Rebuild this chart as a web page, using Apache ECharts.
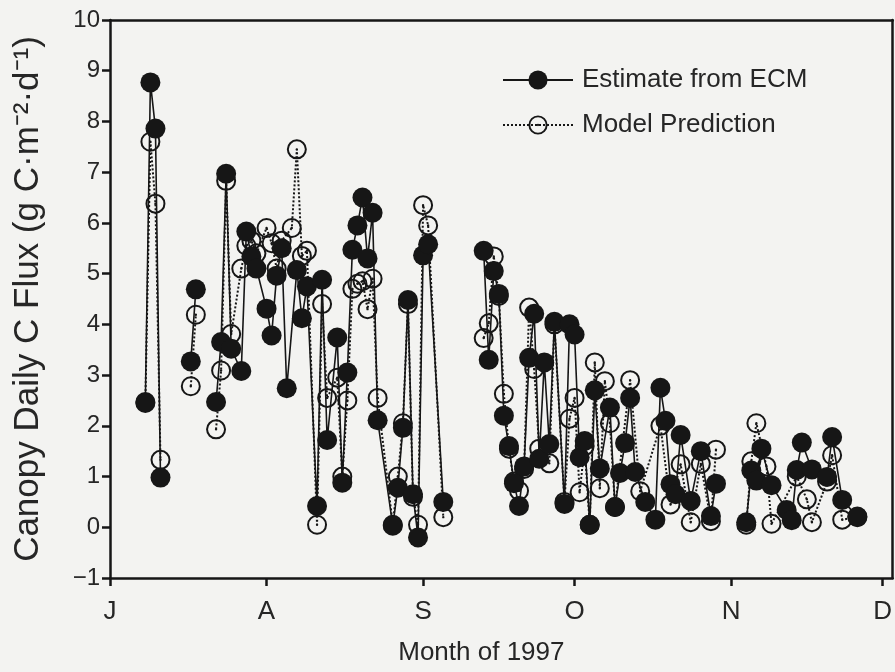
<!DOCTYPE html>
<html>
<head>
<meta charset="utf-8">
<script src="https://cdn.jsdelivr.net/npm/echarts@6/dist/echarts.min.js"></script>
<style>
  html, body { margin: 0; padding: 0; background: #f3f3f1; }
  #chart { width: 895px; height: 672px; }
</style>
</head>
<body>
<div id="chart"></div>
<script>
// x = day counted from 1 July 1997 (0 = 1 July)
const monthTicks = [0, 31, 62, 92, 123, 153];
const monthLabels = ['J', 'A', 'S', 'O', 'N', 'D'];
const yTicks = [-1, 0, 1, 2, 3, 4, 5, 6, 7, 8, 9, 10];

// Estimate from ECM (null = gap in the record)
const ecmDays = [7, 8, 9, 10, 13,
  16, 17, 19,
  21, 22, 23, 24, 26, 27, 28, 29, 31, 32, 33, 34, 35, 37, 38, 39, 41, 42, 43, 45, 46, 47, 48, 49, 50, 51, 52, 53, 56, 57, 58, 59, 60, 61, 62, 63, 66, 70,
  74, 75, 76, 77, 78, 79, 80, 81, 82, 83, 84, 85, 86, 87, 88, 90, 91, 92, 93, 94, 95, 96, 97, 99, 100, 101, 102, 103, 104, 106, 108, 109, 110, 111, 112, 113, 115, 117, 119, 120, 123,
  126, 127, 128, 129, 131, 134, 135, 136, 137, 139, 142, 143, 145, 148];
const ecmValues = [2.47, 8.77, 7.86, 0.98, null,
  3.27, 4.69, null,
  2.47, 3.65, 6.97, 3.52, 3.08, 5.83, 5.34, 5.1, 4.31, 3.78, 4.96, 5.5, 2.74, 5.07, 4.12, 4.75, 0.42, 4.88, 1.72, 3.74, 0.88, 3.05, 5.47, 5.95, 6.5, 5.3, 6.2, 2.11, 0.03, 0.78, 1.96, 4.48, 0.65, -0.2, 5.36, 5.58, 0.5, null,
  5.45, 3.3, 5.05, 4.6, 2.2, 1.6, 0.87, 0.42, 1.2, 3.34, 4.21, 1.35, 3.25, 1.64, 4.05, 0.46, 4.0, 3.8, 1.38, 1.7, 0.05, 2.7, 1.16, 2.36, 0.4, 1.07, 1.66, 2.55, 1.09, 0.5, 0.15, 2.75, 2.1, 0.85, 0.65, 1.82, 0.52, 1.5, 0.22, 0.86, null,
  0.1, 1.12, 0.92, 1.55, 0.83, 0.34, 0.14, 1.13, 1.67, 1.14, 0.99, 1.78, 0.54, 0.21];

// Model Prediction
const modelDays = [7, 8, 9, 10, 13,
  16, 17, 19,
  21, 22, 23, 24, 26, 27, 28, 29, 31, 32, 33, 34, 36, 37, 38, 39, 41, 42, 43, 45, 46, 47, 48, 49, 50, 51, 52, 53, 56, 57, 58, 59, 60, 61, 62, 63, 66, 70,
  74, 75, 76, 77, 78, 79, 80, 81, 82, 83, 84, 85, 87, 88, 90, 91, 92, 93, 94, 95, 96, 97, 98, 99, 100, 103, 105, 109, 111, 113, 115, 117, 119, 120, 123,
  126, 127, 128, 130, 131, 136, 138, 139, 142, 143, 145, 148];
const modelValues = [2.45, 7.6, 6.38, 1.33, null,
  2.78, 4.19, null,
  1.93, 3.09, 6.83, 3.81, 5.1, 5.55, 5.65, 5.4, 5.9, 5.6, 5.1, 5.65, 5.9, 7.45, 5.35, 5.45, 0.05, 4.4, 2.55, 2.95, 1.0, 2.5, 4.7, 4.8, 4.85, 4.3, 4.9, 2.55, 0.05, 1.0, 2.05, 4.4, 0.6, 0.05, 6.35, 5.95, 0.2, null,
  3.73, 4.02, 5.34, 4.56, 2.63, 1.55, 0.9, 0.72, 1.15, 4.33, 3.12, 1.55, 1.26, 4.0, 0.5, 2.14, 2.55, 0.69, 1.6, 0.05, 3.25, 0.77, 2.88, 2.05, 0.4, 2.9, 0.71, 2.0, 0.45, 1.24, 0.1, 1.25, 0.12, 1.53, null,
  0.05, 1.3, 2.05, 1.2, 0.07, 1.0, 0.55, 0.1, 0.9, 1.42, 0.15, 0.2];

const seriesNames = ['Estimate from ECM', 'Model Prediction'];
const axisTitles = ['Month of 1997', 'Canopy Daily C Flux (g C\u00B7m\u207B\u00B2\u00B7d\u207B\u00B9)'];

const pairs = (days, vals) => days.map((d, i) => [d, vals[i] === null ? '-' : vals[i]]);

const ink = '#161616';
const txt = '#262626';
const narrow = '"Liberation Sans Narrow", "Liberation Sans", Arial, sans-serif';
const font = '"Liberation Sans", Arial, Helvetica, sans-serif';
const openDot = 'path://M0,50A50,50,0,1,1,100,50A50,50,0,1,1,0,50Z M10,50A40,40,0,1,0,90,50A40,40,0,1,0,10,50Z M44,50A6,6,0,1,1,56,50A6,6,0,1,1,44,50Z';

const chart = echarts.init(document.getElementById('chart'), null, { renderer: 'canvas' });
chart.setOption({
  backgroundColor: '#f3f3f1',
  animation: false,
  textStyle: { fontFamily: font, color: txt },
  grid: { left: 110, right: 2, top: 20, bottom: 94, containLabel: false },
  legend: {
    orient: 'vertical',
    left: 497,
    top: 62,
    itemWidth: 70,
    itemHeight: 24,
    itemGap: 19,
    data: [seriesNames[0], seriesNames[1]],
    textStyle: { fontFamily: narrow, fontSize: 26, lineHeight: 26, color: txt, padding: [0, 0, 0, 4] }
  },
  xAxis: [{
    type: 'value',
    min: 0,
    max: 155,
    position: 'bottom',
    name: axisTitles[0],
    nameLocation: 'middle',
    nameGap: 62,
    nameTextStyle: { fontFamily: narrow, fontSize: 26, color: txt, padding: [0, 40, 0, 0] },
    axisLine: { show: true, onZero: false, lineStyle: { color: ink, width: 2.5 } },
    axisTick: { show: true, inside: false, length: 8, customValues: monthTicks, lineStyle: { color: ink, width: 2.5 } },
    axisLabel: {
      customValues: monthTicks,
      margin: 21,
      fontFamily: narrow,
      fontSize: 26,
      color: txt,
      formatter: v => monthLabels[monthTicks.indexOf(v)]
    },
    splitLine: { show: false }
  }, {
    type: 'value',
    min: 0,
    max: 155,
    position: 'top',
    axisLine: { show: true, onZero: false, lineStyle: { color: ink, width: 2.5 } },
    axisTick: { show: false },
    axisLabel: { show: false },
    splitLine: { show: false }
  }],
  yAxis: [{
    type: 'value',
    min: yTicks[0],
    max: yTicks[yTicks.length - 1],
    interval: 1,
    name: axisTitles[1],
    nameLocation: 'middle',
    nameGap: 64,
    nameTextStyle: { fontFamily: font, fontSize: 35, color: txt },
    axisLine: { show: true, onZero: false, lineStyle: { color: ink, width: 2.5 } },
    axisTick: { show: true, inside: false, length: 8, lineStyle: { color: ink, width: 2.5 } },
    axisLabel: {
      margin: 10,
      fontFamily: narrow,
      fontSize: 24,
      color: txt,
      formatter: v => (v < 0 ? '\u2212' + Math.abs(v) : String(v))
    },
    splitLine: { show: false }
  }, {
    type: 'value',
    min: yTicks[0],
    max: yTicks[yTicks.length - 1],
    interval: 1,
    position: 'right',
    axisLine: { show: true, onZero: false, lineStyle: { color: ink, width: 2.5 } },
    axisTick: { show: false },
    axisLabel: { show: false },
    splitLine: { show: false }
  }],
  series: [{
    name: seriesNames[1],
    type: 'line',
    xAxisIndex: 0,
    yAxisIndex: 0,
    data: pairs(modelDays, modelValues),
    connectNulls: false,
    symbol: openDot,
    symbolSize: 20,
    showAllSymbol: true,
    z: 2,
    lineStyle: { color: ink, width: 2, type: 'dotted' },
    itemStyle: { color: ink, borderWidth: 0 }
  }, {
    name: seriesNames[0],
    type: 'line',
    xAxisIndex: 0,
    yAxisIndex: 0,
    data: pairs(ecmDays, ecmValues),
    connectNulls: false,
    symbol: 'circle',
    symbolSize: 20,
    showAllSymbol: true,
    z: 3,
    lineStyle: { color: ink, width: 1.6, type: 'solid' },
    itemStyle: { color: ink, borderWidth: 0 }
  }]
});
</script>
</body>
</html>
